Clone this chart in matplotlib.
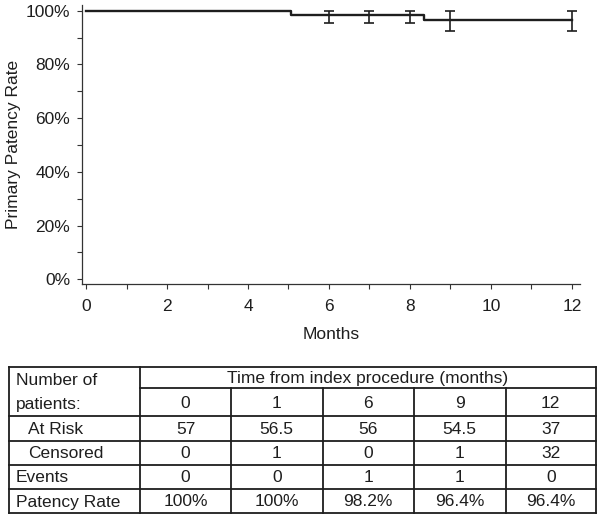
import matplotlib
matplotlib.use("Agg")
import matplotlib.pyplot as plt
from matplotlib.ticker import MultipleLocator, FuncFormatter

plt.rcParams['font.family'] = ['Liberation Sans', 'DejaVu Sans']

# ---- data ----
step_times = [0, 5.05, 8.35, 12]
step_rates = [100, 98.2, 96.4, 96.4]
err_times = [6, 7, 8, 9, 12]
err_rates = [98.2, 98.2, 98.2, 96.4, 96.4]
err_lower = [95.5, 95.5, 95.5, 92.6, 92.6]
err_upper = [100, 100, 100, 100, 100]

table_times = ["0", "1", "6", "9", "12"]
at_risk = ["57", "56.5", "56", "54.5", "37"]
censored = ["0", "1", "0", "1", "32"]
events = ["0", "0", "1", "1", "0"]
patency_rate = ["100%", "100%", "98.2%", "96.4%", "96.4%"]

W, H = 602, 519
FS = 12.5
INK = '#1e1e1e'

fig = plt.figure(figsize=(W / 100, H / 100), dpi=100)

def px_axes(l, t, r, b):
    return fig.add_axes([l / W, 1 - b / H, (r - l) / W, (b - t) / H])

ax = px_axes(82, 5, 580, 284)
ax.step(step_times, step_rates, where='post', color=INK, lw=1.7)
yerr = [[c - lo for c, lo in zip(err_rates, err_lower)],
        [hi - c for c, hi in zip(err_rates, err_upper)]]
ax.errorbar(err_times, err_rates, yerr=yerr, fmt='none', ecolor=INK,
            elinewidth=1.2, capsize=3.3, capthick=1.2)

ax.set_xlim(-0.099, 12.198)
ax.set_ylim(-1.75, 102.1)
ax.xaxis.set_major_locator(MultipleLocator(2))
ax.xaxis.set_minor_locator(MultipleLocator(1))
ax.yaxis.set_major_locator(MultipleLocator(20))
ax.yaxis.set_minor_locator(MultipleLocator(10))
ax.yaxis.set_major_formatter(FuncFormatter(lambda v, p: f"{v:.0f}%"))
for s in ['top', 'right']:
    ax.spines[s].set_visible(False)
for s in ['left', 'bottom']:
    ax.spines[s].set_color('#333333')
    ax.spines[s].set_linewidth(0.9)
ax.tick_params(axis='both', which='both', direction='out', length=3.5,
               width=0.8, color='#333333', labelsize=FS, labelcolor=INK)
ax.tick_params(axis='x', which='both', pad=7.5)
ax.tick_params(axis='y', which='both', pad=5)
ax.set_xlabel('Months', fontsize=FS, color=INK, labelpad=9)
ax.set_ylabel('Primary Patency Rate', fontsize=FS, color=INK)
ax.yaxis.set_label_coords((14 - 82) / 498, 0.5)
ax.yaxis.label.set_verticalalignment('center')

# ---- table ----
tax = fig.add_axes([0, 0, 1, 1])
tax.set_xlim(0, W)
tax.set_ylim(H, 0)
tax.axis('off')

col_edges = [9, 140, 231, 322.5, 414, 505.5, 596]
row_edges = [366.7, 388.3, 415.7, 440.7, 464.5, 489, 513]
LW = 1.3
for i, y in enumerate(row_edges):
    x0 = col_edges[1] if i == 1 else col_edges[0]
    tax.plot([x0, col_edges[-1]], [y, y], color=INK, lw=LW, solid_capstyle='projecting')
for j, x in enumerate(col_edges):
    y0 = row_edges[1] if 2 <= j <= 5 else row_edges[0]
    tax.plot([x, x], [y0, row_edges[-1]], color=INK, lw=LW, solid_capstyle='projecting')

def rc(i):
    return (row_edges[i] + row_edges[i + 1]) / 2 + 1

tax.text((col_edges[1] + col_edges[-1]) / 2, rc(0), 'Time from index procedure (months)',
         ha='center', va='center', fontsize=FS, color=INK)
tax.text(16, rc(0) + 2, 'Number of', ha='left', va='center', fontsize=FS, color=INK)
tax.text(16, rc(1) + 1, 'patients:', ha='left', va='center', fontsize=FS, color=INK)

rows = [(None, table_times, 16), ('At Risk', at_risk, 28), ('Censored', censored, 28),
        ('Events', events, 16), ('Patency Rate', patency_rate, 16)]
for k, (label, vals, lx) in enumerate(rows):
    ri = k + 1
    yc = rc(ri)
    if label:
        tax.text(lx, yc, label, ha='left', va='center', fontsize=FS, color=INK)
    for j, v in enumerate(vals):
        xc = (col_edges[j + 1] + col_edges[j + 2]) / 2
        tax.text(xc, yc, v, ha='center', va='center', fontsize=FS, color=INK)

fig.savefig('out.png', dpi=100)
